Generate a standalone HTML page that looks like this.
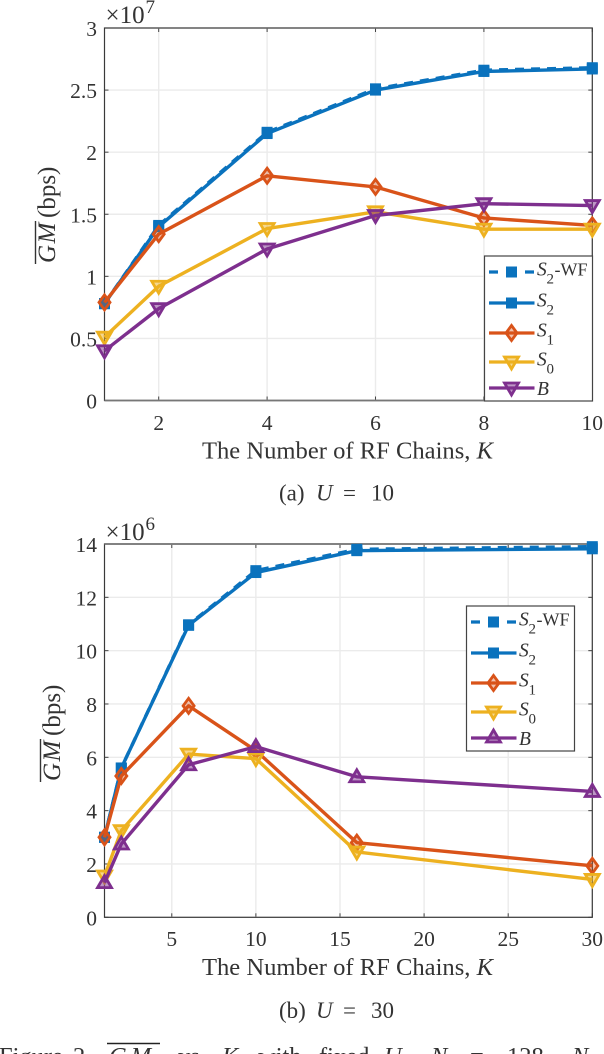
<!DOCTYPE html>
<html lang="en">
<head>
<meta charset="utf-8">
<title>GM vs K</title>
<style>
html,body{margin:0;padding:0;background:#fff;width:604px;height:1054px;overflow:hidden}
svg{display:block;font-family:"Liberation Serif",serif;fill:#333}
text{fill:#333}
</style>
</head>
<body>
<svg id="fig" xmlns="http://www.w3.org/2000/svg" width="604" height="1054" viewBox="0 0 604 1054">
  <g font-size="23">
    <text x="279" y="500.5">(a)</text>
    <text x="316" y="500.5" font-style="italic">U</text>
    <text x="343" y="500.5">=</text>
    <text x="371" y="500.5">10</text>
  </g>
  <g font-size="23">
    <text x="279" y="1018">(b)</text>
    <text x="316" y="1018" font-style="italic">U</text>
    <text x="343" y="1018">=</text>
    <text x="371" y="1018">30</text>
  </g>
  <g font-size="24.5">
    <text x="-1" y="1064">Figure</text>
    <text x="73" y="1064">2.</text>
    <line x1="107" x2="160" y1="1043.5" y2="1043.5" stroke="#222" stroke-width="1.6"></line>
    <text x="109" y="1064" font-style="italic" letter-spacing="4">GM</text>
    <text x="178" y="1064">vs.</text>
    <text x="222" y="1064" font-style="italic">K</text>
    <text x="258" y="1064">with</text>
    <text x="319" y="1064">fixed</text>
    <text x="384" y="1064" font-style="italic">U.</text>
    <text x="431" y="1064" font-style="italic">N</text>
    <text x="470" y="1064">=</text>
    <text x="507" y="1064">128.</text>
    <text x="572" y="1064" font-style="italic">N</text>
  </g>
</svg>
<script>
// ---- Chart A data (U = 10) ----
const kA = [1, 2, 4, 6, 8, 10];
const s2wfA = [0.78, 1.41, 2.16, 2.51, 2.66, 2.68];
const s2A = [0.78, 1.40, 2.15, 2.50, 2.65, 2.67];
const s1A = [0.79, 1.34, 1.81, 1.72, 1.47, 1.41];
const s0A = [0.51, 0.92, 1.385, 1.52, 1.38, 1.38];
const bA = [0.40, 0.74, 1.22, 1.49, 1.585, 1.57];
const xTicksA = [2, 4, 6, 8, 10];
const yTicksA = [0, 0.5, 1, 1.5, 2, 2.5, 3];

// ---- Chart B data (U = 30) ----
const kB = [1, 2, 6, 10, 16, 30];
const s2wfB = [3.0, 5.6, 10.97, 13.0, 13.8, 13.9];
const s2B = [3.0, 5.6, 10.95, 12.93, 13.75, 13.82];
const s1B = [3.0, 5.3, 7.93, 6.25, 2.8, 1.93];
const s0B = [1.55, 3.25, 6.12, 5.95, 2.45, 1.42];
const bB = [1.3, 2.75, 5.72, 6.4, 5.27, 4.72];
const xTicksB = [5, 10, 15, 20, 25, 30];
const yTicksB = [0, 2, 4, 6, 8, 10, 12, 14];

const NS = 'http://www.w3.org/2000/svg';
const fig = document.getElementById('fig');
const BLUE = '#0a72bd', RED = '#d95319', YEL = '#edb120', PUR = '#7e2f8e';

function make(tag, parent, attrs) {
  const el = document.createElementNS(NS, tag);
  for (const k in attrs) el.setAttribute(k, attrs[k]);
  parent.appendChild(el);
  return el;
}

function drawMarker(g, kind, x, y, color) {
  let el;
  if (kind === 'square') {
    el = make('rect', g, {x: x - 4.5, y: y - 4.5, width: 9, height: 9, fill: color, stroke: color, 'stroke-width': 2});
  } else if (kind === 'diamond') {
    el = make('polygon', g, {points: [x, y - 7.5, x + 5.5, y, x, y + 7.5, x - 5.5, y].join(','), fill: color, 'fill-opacity': 0.35, stroke: color, 'stroke-width': 2.8});
  } else if (kind === 'down') {
    el = make('polygon', g, {points: [x - 7, y - 5, x + 7, y - 5, x, y + 7].join(','), fill: color, 'fill-opacity': 0.5, stroke: color, 'stroke-width': 2.8});
  } else {
    el = make('polygon', g, {points: [x - 7, y + 5, x + 7, y + 5, x, y - 7].join(','), fill: color, 'fill-opacity': 0.5, stroke: color, 'stroke-width': 2.8});
  }
  
  
}

function drawChart(c) {
  const root = make('g', fig, {});
  
  

  const xScale = v => c.left + (v - c.xMin) / (c.xMax - c.xMin) * (c.right - c.left);
  const yScale = v => c.bottom - (v - c.yMin) / (c.yMax - c.yMin) * (c.bottom - c.top);

  // grid + ticks + tick labels
  c.xTicks.forEach(t => {
    const x = xScale(t);
    const gl = make('line', root, {x1: x, x2: x, y1: c.top, y2: c.bottom, stroke: '#ebebeb', 'stroke-width': 1.4});
    
    
    const tk = make('line', root, {x1: x, x2: x, y1: c.bottom, y2: c.bottom - 4, stroke: '#444', 'stroke-width': 1});
    
    
    const tk2 = make('line', root, {x1: x, x2: x, y1: c.top, y2: c.top + 4, stroke: '#444', 'stroke-width': 1});
    
    
    const lb = make('text', root, {x: x, y: c.xLabelY, 'text-anchor': 'middle', 'font-size': 21.5});
    
    
    lb.textContent = t;
  });
  c.yTicks.forEach(t => {
    const y = yScale(t);
    const gl = make('line', root, {x1: c.left, x2: c.right, y1: y, y2: y, stroke: '#ebebeb', 'stroke-width': 1.4});
    
    
    const tk = make('line', root, {x1: c.left, x2: c.left + 4, y1: y, y2: y, stroke: '#444', 'stroke-width': 1});
    
    
    const tk2 = make('line', root, {x1: c.right, x2: c.right - 4, y1: y, y2: y, stroke: '#444', 'stroke-width': 1});
    
    
    const lb = make('text', root, {x: 97, y: y + 8, 'text-anchor': 'end', 'font-size': 21.5});
    
    
    lb.textContent = t;
  });

  // frame
  const frame = make('rect', root, {x: c.left, y: c.top, width: c.right - c.left, height: c.bottom - c.top, fill: 'none', stroke: '#3a3a3a', 'stroke-width': 1.2});
  
  
  const heavy = make('line', root, {x1: c.left, x2: c.right, y1: c.heavyY, y2: c.heavyY, stroke: '#777', 'stroke-width': 1.8});
  
  

  // series
  c.series.forEach(s => {
    const g = make('g', root, {});
    
    
    const pts = s.values.map((v, i) => xScale(c.k[i]) + ',' + yScale(v)).join(' ');
    const line = make('polyline', g, {points: pts, fill: 'none', stroke: s.color, 'stroke-width': 3.4, 'stroke-linejoin': 'round'});
    if (s.dash) line.setAttribute('stroke-dasharray', '9 7');
    
    
    s.values.forEach((v, i) => drawMarker(g, s.marker, xScale(c.k[i]), yScale(v), s.color));
  });

  // exponent
  const ex = make('text', root, {x: 105.5, y: c.expY, 'font-size': 25});
  
  
  ex.textContent = '\u00d710';
  const ex2 = make('text', root, {x: 145.5, y: c.expY - c.expRise, 'font-size': 19});
  
  
  ex2.textContent = c.exp;

  // axis titles
  const xt = make('text', root, {x: 347.5, y: c.xTitleY, 'text-anchor': 'middle', 'font-size': 24.6});
  
  
  xt.textContent = 'The Number of RF Chains, ';
  const xk = make('tspan', xt, {'font-style': 'italic'});
  xk.textContent = 'K';

  const yg = make('g', root, {transform: 'translate(' + c.yTitleX + ',' + c.yTitleBottom + ') rotate(-90)'});
  
  
  const gm = make('text', yg, {x: 1, y: 0, 'font-size': 25, 'font-style': 'italic', 'letter-spacing': 1.5});
  gm.textContent = 'GM';
  const ov = make('line', yg, {x1: 0, x2: 43, y1: -19.5, y2: -19.5, stroke: '#333', 'stroke-width': 1.4});
  
  
  const bps = make('text', yg, {x: 46, y: 0, 'font-size': 25});
  bps.textContent = '(bps)';

  // legend
  const lg = make('g', root, {});
  
  
  const box = make('rect', lg, {x: c.legX, y: c.legY, width: 108, height: 145, fill: '#fff', stroke: '#444', 'stroke-width': 1.2});
  
  
  const rows = [16, 47, 77, 106, 132];
  c.series.forEach((s, i) => {
    const y = c.legY + rows[i];
    const e = make('g', lg, {});
    
    
    const l = make('line', e, {x1: c.legX + 4.5, x2: c.legX + 50, y1: y, y2: y, stroke: s.color, 'stroke-width': 3.2});
    if (s.dash) l.setAttribute('stroke-dasharray', '9 9');
    
    
    drawMarker(e, s.marker, c.legX + 27, y + (s.marker === 'up' ? -1 : 0), s.color);
    const t = make('text', e, {x: c.legX + 52.5, y: y + (s.sub ? 3.5 : 7), 'font-size': 19.5, 'font-style': 'italic'});
    
    
    t.textContent = s.sym;
    if (s.sub) {
      const sub = make('text', e, {x: c.legX + 62, y: y + 11.5, 'font-size': 15});
      
      
      sub.textContent = s.sub;
    }
    if (s.suffix) {
      const suf = make('text', e, {x: c.legX + 70, y: y + 3.5, 'font-size': 18});
      
      
      suf.textContent = s.suffix;
    }
  });
}

drawChart({
  name: 'chart-u10', k: kA, xTicks: xTicksA, yTicks: yTicksA,
  left: 104.5, right: 592.3, top: 28, bottom: 400.5, heavyY: 400.5,
  xMin: 1, xMax: 10, yMin: 0, yMax: 3,
  xLabelY: 430, xTitleY: 458.3, expY: 23, expRise: 10, exp: '7', yTitleX: 55, yTitleBottom: 264,
  legX: 484.5, legY: 256,
  series: [
    {id: 's2-wf', sym: 'S', sub: '2', suffix: '-WF', values: s2wfA, color: BLUE, marker: 'square', dash: true},
    {id: 's2', sym: 'S', sub: '2', values: s2A, color: BLUE, marker: 'square'},
    {id: 's1', sym: 'S', sub: '1', values: s1A, color: RED, marker: 'diamond'},
    {id: 's0', sym: 'S', sub: '0', values: s0A, color: YEL, marker: 'down'},
    {id: 'b', sym: 'B', values: bA, color: PUR, marker: 'down'}
  ]
});

drawChart({
  name: 'chart-u30', k: kB, xTicks: xTicksB, yTicks: yTicksB,
  left: 104.5, right: 592.3, top: 544, bottom: 917.3, heavyY: 544,
  xMin: 1, xMax: 30, yMin: 0, yMax: 14,
  xLabelY: 946, xTitleY: 975, expY: 540, expRise: 10, exp: '6', yTitleX: 60, yTitleBottom: 782,
  legX: 466.5, legY: 606,
  series: [
    {id: 's2-wf', sym: 'S', sub: '2', suffix: '-WF', values: s2wfB, color: BLUE, marker: 'square', dash: true},
    {id: 's2', sym: 'S', sub: '2', values: s2B, color: BLUE, marker: 'square'},
    {id: 's1', sym: 'S', sub: '1', values: s1B, color: RED, marker: 'diamond'},
    {id: 's0', sym: 'S', sub: '0', values: s0B, color: YEL, marker: 'down'},
    {id: 'b', sym: 'B', values: bB, color: PUR, marker: 'up'}
  ]
});
</script>
</body>
</html>
